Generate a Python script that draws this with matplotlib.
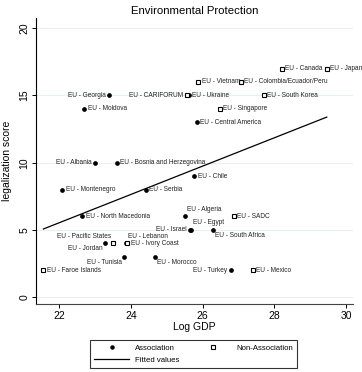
import matplotlib
matplotlib.use("Agg")
import matplotlib.pyplot as plt
from matplotlib.lines import Line2D

plt.rcParams['font.family'] = ['Liberation Sans', 'DejaVu Sans']

# Association agreements (filled circles)
assoc_names = ["EU - Georgia", "EU - Ukraine", "EU - Moldova", "EU - Albania",
               "EU - Bosnia and Herzegovina", "EU - Central America", "EU - Chile",
               "EU - Montenegro", "EU - Serbia", "EU - North Macedonia", "EU - Jordan",
               "EU - Lebanon", "EU - Tunisia", "EU - Morocco", "EU - Israel",
               "EU - Egypt", "EU - South Africa", "EU - Algeria", "EU - Turkey"]
assoc_x = [23.39, 25.61, 22.70, 23.01, 23.60, 25.84, 25.77, 22.09, 24.42, 22.64,
           23.28, 23.86, 23.82, 24.68, 25.65, 25.68, 26.28, 25.51, 26.79]
assoc_y = [15, 15, 14, 10, 10, 13, 9, 8, 8, 6, 4, 4, 3, 3, 5, 5, 5, 6, 2]
assoc_pos = ["l", "r", "r", "l", "r", "r", "r", "r", "r", "r", "ll",
             "ur", "ll", "lr", "l", "ur", "lr", "ur", "l"]

# Non-association agreements (hollow squares)
non_names = ["EU - CARIFORUM", "EU - Canada", "EU - Japan", "EU - Vietnam",
             "EU - Colombia/Ecuador/Peru", "EU - South Korea", "EU - Singapore",
             "EU - Pacific States", "EU - Ivory Coast", "EU - Faroe Islands",
             "EU - SADC", "EU - Mexico"]
non_x = [25.56, 28.21, 29.46, 25.88, 27.07, 27.70, 26.47, 23.50, 23.90, 21.56,
         26.87, 27.40]
non_y = [15, 17, 17, 16, 16, 15, 14, 4, 4, 2, 6, 2]
non_pos = ["l", "r", "r", "r", "r", "r", "r", "ul", "r", "r", "r", "r"]

# fitted line endpoints
fit_x = [21.56, 29.46]
fit_y = [5.07, 13.39]

offsets = {"r": (2.5, 0, "left", "center"), "l": (-2.5, 0, "right", "center"),
           "ur": (1.5, 2.5, "left", "bottom"), "ul": (-1.5, 2.5, "right", "bottom"),
           "lr": (1.5, -1.5, "left", "top"), "ll": (-1.5, -1.5, "right", "top")}

fig = plt.figure(figsize=(3.62, 3.72), dpi=100)
ax = fig.add_axes([0.100, 0.183, 0.874, 0.768])

ax.plot(fit_x, fit_y, color="black", lw=0.9, zorder=2)
ax.plot(assoc_x, assoc_y, "o", ms=3.4, color="black", mew=0, zorder=3)
ax.plot(non_x, non_y, "s", ms=3.0, mfc="white", mec="black", mew=0.8, zorder=3)

def put_labels(names, xs, ys, pos):
    for n, x, y, p in zip(names, xs, ys, pos):
        dx, dy, ha, va = offsets[p]
        ax.annotate(n, (x, y), xytext=(dx, dy), textcoords="offset points",
                    ha=ha, va=va, fontsize=4.7, color="#222222")

put_labels(assoc_names, assoc_x, assoc_y, assoc_pos)
put_labels(non_names, non_x, non_y, non_pos)

ax.set_xlim(21.36, 30.18)
ax.set_ylim(-0.5, 20.74)
ax.set_xticks([22, 24, 26, 28, 30])
ax.set_yticks([0, 5, 10, 15, 20])
for yv in [0, 5, 10, 15, 20]:
    ax.axhline(yv, color="#e6f0f0", lw=0.8, zorder=0)
ax.tick_params(axis="both", labelsize=7.5, length=3, width=0.7, pad=2)
for lab in ax.get_yticklabels():
    lab.set_rotation(90)
    lab.set_va("center")
ax.spines["top"].set_visible(False)
ax.spines["right"].set_visible(False)
ax.spines["left"].set_linewidth(0.8)
ax.spines["bottom"].set_linewidth(0.8)
ax.spines["bottom"].set_color("#444444")

ax.set_xlabel("Log GDP", fontsize=7.5, labelpad=1)
ax.set_ylabel("legalization score", fontsize=7.5, labelpad=5)
ax.set_title("Environmental Protection", fontsize=8.2, pad=3)

handles = [Line2D([], [], marker="o", ls="none", color="black", ms=3.2, mew=0),
           Line2D([], [], color="black", lw=0.9),
           Line2D([], [], marker="s", ls="none", mfc="white", mec="black", ms=3.0, mew=0.8)]
labels = ["Association", "Fitted values", "Non-Association"]
leg = fig.legend(handles, labels, loc="upper center", bbox_to_anchor=(0.535, 0.096),
                 ncol=2, fontsize=5.6, frameon=True, fancybox=False,
                 edgecolor="black", handlelength=4.5, columnspacing=2.0,
                 borderpad=0.5, labelspacing=0.6)
leg.get_frame().set_linewidth(0.8)

fig.savefig("out.png", dpi=100)
